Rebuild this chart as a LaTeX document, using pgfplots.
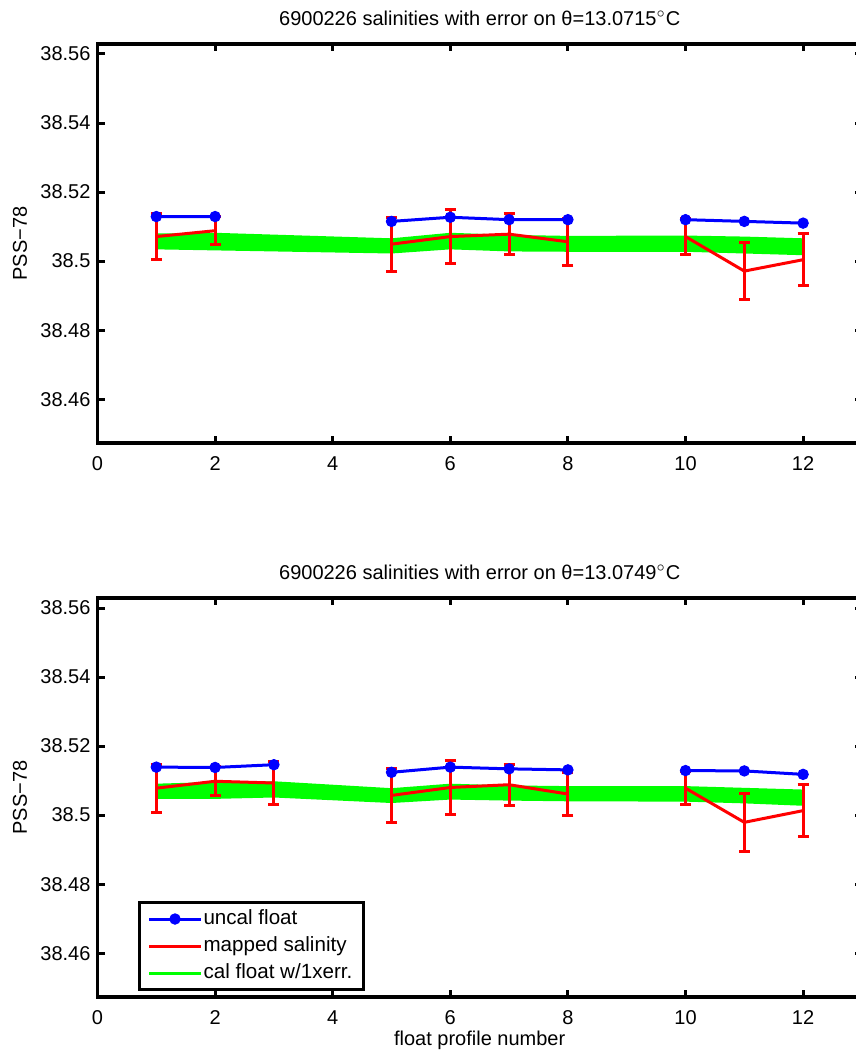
\documentclass[border=0pt]{standalone}
\usepackage{fontspec}
\setmainfont{Liberation Sans}
\usepackage{pgfplots}
\usepackage{pgfplotstable}
\pgfplotsset{compat=1.18}
\usepgfplotslibrary{fillbetween}

\pgfplotstableread{
x y
1 38.5129
2 38.5129
3 nan
5 38.5115
6 38.5127
7 38.5120
8 38.5120
9 nan
10 38.5120
11 38.5115
12 38.5110
}\topblue
\pgfplotstableread{
x y e
1 38.5071 0.0066
2 38.5088 0.0041
3 nan 0
5 38.5049 0.0078
6 38.5071 0.0078
7 38.5078 0.0060
8 38.5056 0.0068
9 nan 0
10 38.5071 0.0051
11 38.4971 0.0083
12 38.5004 0.0075
}\topred
\pgfplotstableread{
x lo hi
1 38.5034 38.5080
2 38.5031 38.5082
5 38.5022 38.5066
6 38.5034 38.5082
7 38.5028 38.5076
8 38.5027 38.5073
10 38.5027 38.5074
11 38.5022 38.5071
12 38.5017 38.5066
}\topgreen
\pgfplotstableread{
x y
1 38.5139
2 38.5138
3 38.5146
4 nan
5 38.5124
6 38.5139
7 38.5134
8 38.5131
9 nan
10 38.5129
11 38.5128
12 38.5118
}\botblue
\pgfplotstableread{
x y e
1 38.5078 0.0070
2 38.5098 0.0042
3 38.5093 0.0061
4 nan 0
5 38.5057 0.0079
6 38.5080 0.0077
7 38.5088 0.0060
8 38.5061 0.0062
9 nan 0
10 38.5078 0.0048
11 38.4979 0.0085
12 38.5013 0.0075
}\botred
\pgfplotstableread{
x lo hi
1 38.5047 38.5091
2 38.5047 38.5096
3 38.5051 38.5098
5 38.5035 38.5078
6 38.5045 38.5091
7 38.5042 38.5086
8 38.5040 38.5084
10 38.5039 38.5084
11 38.5034 38.5079
12 38.5027 38.5074
}\botgreen

\pgfplotsset{
  myaxis/.style={
    scale only axis,
    width=382.2pt, height=199.5pt,
    xmin=0, xmax=13,
    ymin=38.4473, ymax=38.5629,
    xtick={0,2,4,6,8,10,12},
    ytick={38.46,38.48,38.50,38.52,38.54,38.56},
    yticklabels={38.46,38.48,38.5,38.52,38.54,38.56},
    /pgf/number format/assume math mode=true,
    xtick pos=both, ytick pos=both,
    xticklabel pos=lower, yticklabel pos=left,
    tick align=inside,
    major tick length=3.5pt,
    every tick/.style={black, line width=1.5pt},
    axis line style={line width=1.6pt, black},
    xticklabel style={yshift=-3.2pt, font=\normalsize},
    yticklabel style={font=\normalsize},
    title style={at={(axis description cs:0.5,1)}, anchor=center, yshift=7pt},
    ylabel style={at={(axis description cs:-0.1014,0.5)}, anchor=center},
    ylabel={PSS−78},
    unbounded coords=jump,
    legend image code/.code={
      \draw[mark repeat=2,mark phase=2,##1] plot coordinates {(0pt,0pt) (13pt,0pt) (26pt,0pt)};
    },
  },
  redstyle/.style={red, line width=1.5pt, mark=none,
    error bars/y dir=both, error bars/y explicit,
    error bars/error bar style={red, line width=1.5pt},
    error bars/error mark options={red, line width=1.5pt, mark size=2.75pt, rotate=90}},
  bluestyle/.style={blue, line width=1.5pt, mark=*, mark size=2.6pt,
    mark options={line width=0.5pt, fill=blue}},
}

\begin{document}
\begin{tikzpicture}
% top axis
\begin{axis}[myaxis, at={(48.75pt,304.5pt)}, anchor=south west,
  title={6900226 salinities with error on θ=13.0715$^{\circ}$C}]
  \addplot[draw=none, name path=gtop, forget plot] table[x=x,y=hi] {\topgreen};
  \addplot[draw=none, name path=gbot, forget plot] table[x=x,y=lo] {\topgreen};
  \addplot[green, draw=none, forget plot] fill between[of=gtop and gbot];
  \addplot[forget plot, redstyle] table[x=x, y=y, y error=e] {\topred};
  \addplot[forget plot, bluestyle] table[x=x, y=y] {\topblue};
\end{axis}
% bottom axis
\begin{axis}[myaxis, at={(48.75pt,27.5pt)}, anchor=south west,
  title={6900226 salinities with error on θ=13.0749$^{\circ}$C},
  xlabel={float profile number},
  xlabel style={at={(axis description cs:0.5,0)}, anchor=center, yshift=-21.5pt},
  legend style={at={(0.053,0.015)}, anchor=south west, draw=black,
    line width=1.5pt, fill=white, inner xsep=4pt, inner ysep=1.5pt,
    font=\fontsize{10.3}{12}\selectfont, cells={anchor=west},
    nodes={text height=8pt, text depth=2.5pt, inner sep=1.5pt},
    /tikz/every odd column/.append style={column sep=-1pt}},
  ]
  \addlegendimage{bluestyle}
  \addlegendentry{uncal float}
  \addlegendimage{red, line width=1.5pt}
  \addlegendentry{mapped salinity}
  \addlegendimage{green, line width=1.5pt}
  \addlegendentry{cal float w/1xerr.}
  \addplot[draw=none, name path=gtop2, forget plot] table[x=x,y=hi] {\botgreen};
  \addplot[draw=none, name path=gbot2, forget plot] table[x=x,y=lo] {\botgreen};
  \addplot[green, draw=none, forget plot] fill between[of=gtop2 and gbot2];
  \addplot[forget plot, redstyle] table[x=x, y=y, y error=e] {\botred};
  \addplot[forget plot, bluestyle] table[x=x, y=y] {\botblue};
\end{axis}
\pgfresetboundingbox
\path[use as bounding box] (0,0) rectangle (427.5pt,526pt);
\end{tikzpicture}
\end{document}
